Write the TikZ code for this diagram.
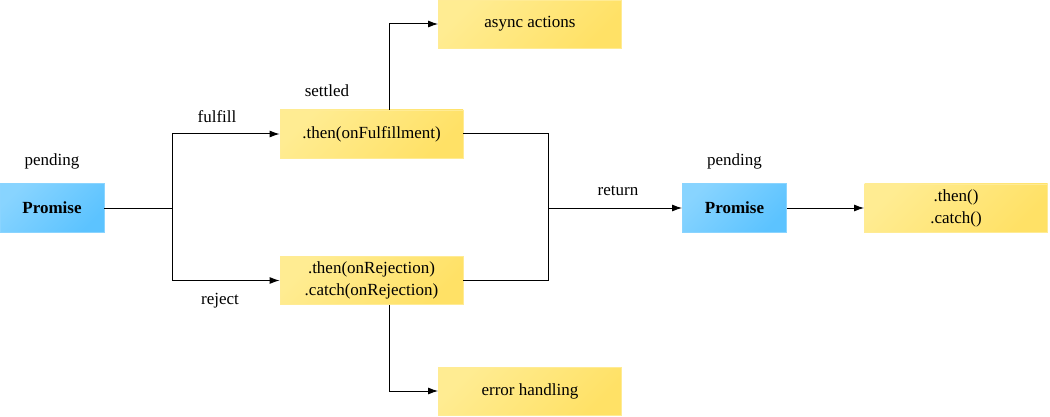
\documentclass[tikz,border=0pt]{standalone}
\usepackage{fontspec}
\setmainfont{Liberation Serif}
\usetikzlibrary{arrows.meta,calc}
\definecolor{ylight}{HTML}{FFEC92}
\definecolor{ydark}{HTML}{FFE166}
\definecolor{yedge}{HTML}{FFEB94}
\definecolor{blight}{HTML}{88D4FF}
\definecolor{bdark}{HTML}{5CC3FF}
\definecolor{bedge}{HTML}{8AD4FF}
\begin{document}
\begin{tikzpicture}[x=1pt,y=-1pt,
  font=\fontsize{17}{22}\selectfont,
  ybox/.style={rectangle, draw=yedge, line width=0.8pt, minimum width=183pt, minimum height=48pt, align=center, inner sep=0pt,
     top color=ylight, bottom color=ydark, shading angle=45},
  bbox/.style={rectangle, draw=bedge, line width=0.8pt, minimum width=104pt, minimum height=49pt, align=center, inner sep=0pt,
     top color=blight, bottom color=bdark, shading angle=45, font=\fontsize{17}{22}\selectfont\bfseries},
  conn/.style={draw, line width=1pt},
  arr/.style={conn, -{Latex[length=10pt,width=7pt]}},
  lbl/.style={inner sep=0pt}
]
\useasboundingbox (0,0) rectangle (1050,417);
\node[bbox] (p1) at (52,208) {Promise};
\node[lbl] (pend1) at (52,161) {pending};
\node[ybox] (ful) at (371.5,134) {.then(onFulfillment)};
\node[ybox] (rej) at (371.5,280.5) {.then(onRejection)\\.catch(onRejection)};
\node[ybox] (async) at (530,24) {async actions};
\node[ybox] (err) at (530,391) {error handling};
\node[bbox] (p2) at (734.5,208) {Promise};
\node[lbl] (pend2) at (734.5,161) {pending};
\node[ybox] (tc) at (956,208) {.then()\\.catch()};
\node[lbl] (lful) at (217,117) {fulfill};
\node[lbl] (lrej) at (220,301) {reject};
\node[lbl] (lset) at (327,91) {settled};
\node[lbl] (lret) at (618,191) {return};

\coordinate (split) at (172,208);
\coordinate (join) at (548,208);

\draw[conn] (p1.east) -- (split);
\draw[arr] (split) |- (ful.west);
\draw[arr] (split) |- (rej.west);
\draw[arr] ($(ful.north west)+(110,0)$) |- (async.west);
\draw[arr] ($(rej.south west)+(110,0)$) |- (err.west);
\draw[conn] (ful.east) -| (join);
\draw[conn] (rej.east) -| (join);
\draw[arr] (join) -- (p2.west);
\draw[arr] (p2.east) -- (tc.west);
\end{tikzpicture}
\end{document}
